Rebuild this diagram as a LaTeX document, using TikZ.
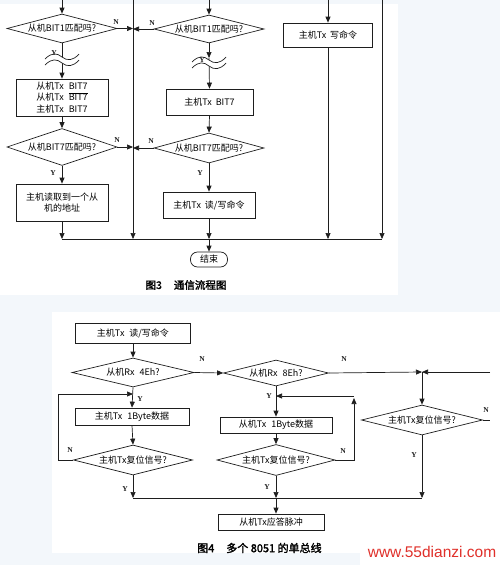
\documentclass[tikz,border=0pt]{standalone}
\usepackage{fontspec}
\newfontfamily\cjk{Noto Sans CJK SC}
\newfontfamily\cjkb[FakeBold=2]{Noto Sans CJK SC}
\newfontfamily\lsans{Liberation Sans}
\newfontfamily\lserif{Liberation Serif}
\usetikzlibrary{arrows.meta,shapes.geometric,calc}
\definecolor{bgc}{HTML}{F3F7FB}
\definecolor{wm}{HTML}{E0302A}
\definecolor{ink}{HTML}{1E1E1E}
\newcommand\mytxt{\cjk\fontsize{9}{11.5}\selectfont}
\newcommand\mylbl{\lserif\bfseries\fontsize{7.5}{8}\selectfont}
\newcommand\mycap{\cjkb\fontsize{10.5}{12}\selectfont}
\begin{document}
\begin{tikzpicture}[x=1pt,y=-1pt,
  ln/.style={draw=ink, line width=0.7pt},
  arr/.style={ln, -{Triangle[length=6pt,width=5pt]}},
  bx/.style={draw=ink, line width=0.7pt, rectangle, inner sep=0pt, font=\mytxt, align=center},
  dm/.style={draw=ink, line width=0.7pt, diamond, inner xsep=-3pt, inner ysep=-2pt, font=\mytxt},
  lab/.style={font=\mylbl, inner sep=0pt, text=ink}]
% backgrounds
\useasboundingbox (0,0) rectangle (500,565);
\fill[bgc] (0,0) rectangle (500,565);
\fill[white] (0,4) rectangle (398,295);
\fill[white] (52,312) rectangle (500,553);
\fill[white] (360,538) rectangle (500,565);

% ================= Fig 3 =================
\coordinate (t1) at (62,0);
\coordinate (t3) at (209,0);
\coordinate (t5) at (328,0);
\coordinate (vL) at (133,0);
\coordinate (vR) at (382,0);
\coordinate (bl) at (0,239);

\node[dm, aspect=3.8, minimum width=110pt, minimum height=29pt] (d1) at (62,28.5) {从机BIT1匹配吗?};
\node[dm, aspect=3.9, minimum width=110pt, minimum height=28pt] (d3) at (209,29) {从机BIT1匹配吗?};
\node[bx, minimum width=92pt, minimum height=37pt] (b1) at (62,97.5) {从机Tx\hspace{5pt}BIT7\\从机Tx\hspace{5pt}$\overline{\mbox{BIT7}}$\\主机Tx\hspace{5pt}BIT7};
\node[dm, aspect=3.0, minimum width=110pt, minimum height=37pt] (d2) at (62,147) {从机BIT7匹配吗?};
\node[bx, minimum width=92pt, minimum height=37pt] (b2) at (62,202.5) {主机读取到一个从\\机的地址};
\node[bx, minimum width=87pt, minimum height=26pt] (b3) at (209.5,102) {主机Tx\hspace{4pt}BIT7};
\node[dm, aspect=3.7, minimum width=110pt, minimum height=30pt] (d4) at (209,148) {从机BIT7匹配吗?};
\node[bx, minimum width=92pt, minimum height=26pt] (b4) at (209,205) {主机Tx\hspace{4pt}读/写命令};
\node[bx, minimum width=89pt, minimum height=24pt] (b5) at (328,35) {主机Tx\hspace{4pt}写命令};
\node[bx, rounded corners=7pt, minimum width=37pt, minimum height=15pt] (end) at (209,259.5) {结束};

\draw[arr] (t1) -- (d1.north);
\draw[arr] (t3) -- (d3.north);
\draw[arr] (t5) -- (b5.north);
\draw[arr] (d1.east) -- (d1.east -| vL);
\draw[arr] (d3.west) -- (d3.west -| vL);
\draw[arr] (d2.east) -- (d2.east -| vL);
\draw[arr] (d4.west) -- (d4.west -| vL);
\draw[arr] (d1.south) -- (b1.north);
\draw[arr] (d3.south) -- (209,58);
\draw[arr] (209,58) -- (b3.north);
\draw[arr] (b1.south) -- (d2.north);
\draw[arr] (b3.south) -- (d4.north);
\draw[arr] (d2.south) -- (b2.north);
\draw[arr] (d4.south) -- (b4.north);
\draw[arr] (vL) -- (vL |- bl);
\draw[arr] (vR) -- (vR |- bl);
\draw[arr] (b5.south) -- (b5.south |- bl);
\draw[arr] (b2.south) -- (b2.south |- bl);
\draw[arr] (b4.south) -- (b4.south |- bl);
\draw[ln] (b2.south |- bl) -- (vR |- bl);
\draw[arr] (b4.south |- bl) -- (end.north);

% wave break symbols
\foreach \wx/\wy in {62/60, 209/63}{
\begin{scope}[shift={(\wx,\wy)}]
\fill[white] (-17,-1) .. controls (-10,-8) and (-5,-7) .. (0,-3) .. controls (5,1) and (11,1) .. (17,-6)
  -- (17,0) .. controls (11,7) and (5,7) .. (0,3) .. controls (-5,-1) and (-10,-2) .. (-17,5) -- cycle;
\draw[ln] (-17,-1) .. controls (-10,-8) and (-5,-7) .. (0,-3) .. controls (5,1) and (11,1) .. (17,-6);
\draw[ln] (-17,5) .. controls (-10,-2) and (-5,-1) .. (0,3) .. controls (5,7) and (11,7) .. (17,0);
\end{scope}}

\node[lab] (n1) at (116,22) {N};
\node[lab] (n3) at (152,23) {N};
\node[lab] (n2) at (117,140) {N};
\node[lab] (n4) at (151,141) {N};
\node[lab] (y1) at (54,53) {Y};
\node[lab] (y2) at (53,173) {Y};
\node[lab] (y3) at (202,60) {Y};
\node[lab] (y4) at (200,173) {Y};

\node[font=\mycap, inner sep=0pt] (cap3) at (186,285) {图3\hspace{12pt}通信流程图};

% ================= Fig 4 =================
\coordinate (jx) at (422,372);
\coordinate (rr) at (490,372);
\coordinate (ie) at (490,420);
\coordinate (bot4) at (0,498);
\coordinate (lx) at (58,0);
\coordinate (ly) at (0,394);
\coordinate (ry) at (354,396);

\node[bx, minimum width=115pt, minimum height=20pt] (A) at (133,333) {主机Tx\hspace{5pt}读/写命令};
\node[dm, aspect=4.2, minimum width=122pt, minimum height=29pt] (B) at (133,372.5) {从机Rx\hspace{5pt}4Eh?};
\node[dm, aspect=4.0, minimum width=105pt, minimum height=26pt] (C) at (276,373) {从机Rx\hspace{5pt}8Eh?};
\node[bx, minimum width=114pt, minimum height=17pt] (D) at (132,416.5) {主机Tx\hspace{5pt}1Byte数据};
\node[dm, aspect=4.0, minimum width=119pt, minimum height=30pt] (E) at (133,460) {主机Tx复位信号?};
\node[bx, minimum width=112pt, minimum height=16pt] (F) at (276,425) {从机Tx\hspace{5pt}1Byte数据};
\node[dm, aspect=3.8, minimum width=118pt, minimum height=31pt] (G) at (276,460) {主机Tx复位信号?};
\node[bx, minimum width=106pt, minimum height=16pt] (H) at (271,522) {从机Tx应答脉冲};
\node[dm, aspect=4.0, minimum width=121pt, minimum height=30pt] (I) at (422,420) {主机Tx复位信号?};

\draw[arr] (A.south) -- (B.north);
\draw[arr] (B.east) -- (C.west);
\draw[arr] (C.east) -- (jx);
\draw[arr] (rr) -- (jx);
\draw[arr] (jx) -- (I.north);
\draw[ln] (I.east) -- (ie);
\draw[arr] (I.south) -- (I.south |- bot4);
\draw[arr] (B.south) -- (D.north);
\draw[arr] (E.west) -- (E.west -| lx) -- (lx |- ly) -- (B.south |- ly);
\draw[arr] (D.south) -- (E.north);
\draw[arr] (E.south) -- (E.south |- bot4);
\draw[ln] (E.south |- bot4) -- (I.south |- bot4);
\draw[arr] (C.south) -- (F.north);
\draw[arr] (G.east) -| ($(ry)+(0,2)$);
\draw[arr] (ry) -- (ry -| C.south);
\draw[arr] (F.south) -- (G.north);
\draw[arr] (G.south) -- (G.south |- bot4);
\draw[arr] (G.south |- bot4) -- (G.south |- H.north);

\node[lab] (n5) at (202,359) {N};
\node[lab] (n6) at (344,359) {N};
\node[lab] (n7) at (486,410) {N};
\node[lab] (n8) at (70,450) {N};
\node[lab] (n9) at (343,451) {N};
\node[lab] (y5) at (140,399) {Y};
\node[lab] (y6) at (125,489) {Y};
\node[lab] (y7) at (269,396) {Y};
\node[lab] (y8) at (267,487) {Y};
\node[lab] (y9) at (414,455) {Y};

\node[font=\cjkb\fontsize{11}{12}\selectfont, inner sep=0pt, anchor=west] (cap4) at (197,548) {图4\hspace{12pt}多个 8051 的单总线};
\node[font=\lsans\fontsize{15.5}{16}\selectfont, text=wm, inner sep=0pt] (wmk) at (432,552) {www.55dianzi.com};
\end{tikzpicture}
\end{document}
